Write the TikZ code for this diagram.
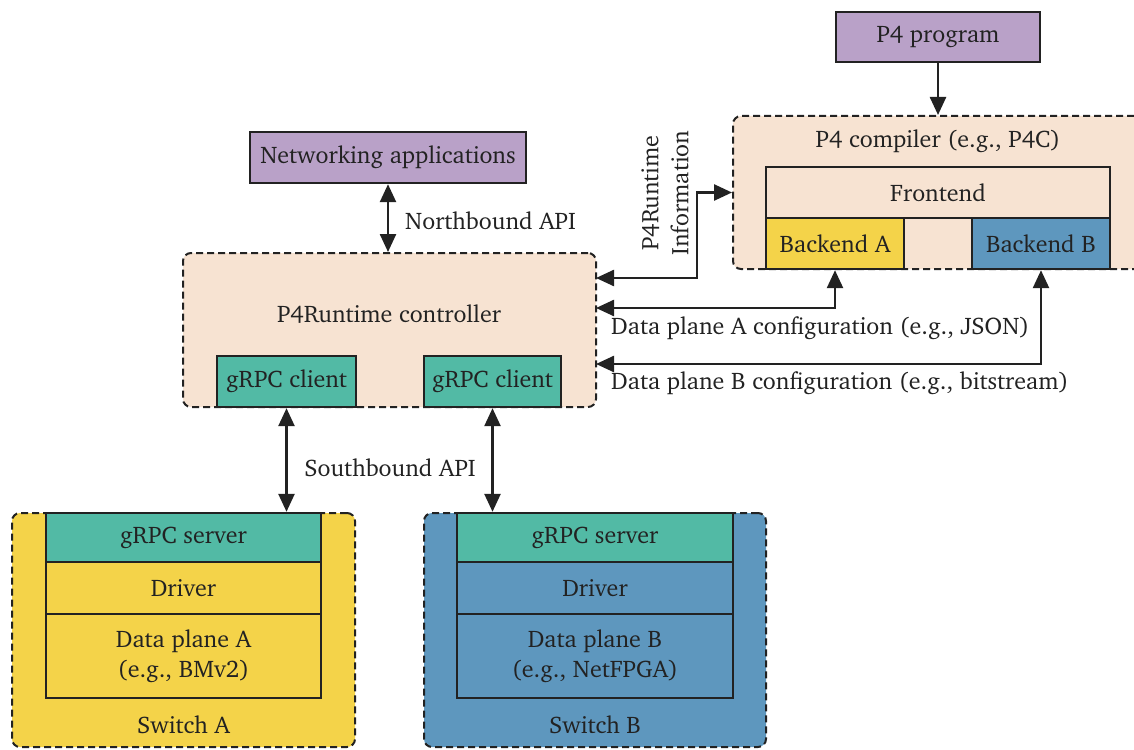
\documentclass[tikz,border=0pt]{standalone}
\usepackage[T1]{fontenc}
\usepackage{charter}
\usetikzlibrary{arrows.meta}
\definecolor{appPurple}{HTML}{B9A1C8}
\definecolor{peach}{HTML}{F7E3D2}
\definecolor{swYellow}{HTML}{F4D349}
\definecolor{swBlue}{HTML}{5E97BE}
\definecolor{rpcTeal}{HTML}{52BAA5}
\definecolor{ink}{HTML}{222222}
\begin{document}
\begin{tikzpicture}[x=1pt,y=-1pt,
  font=\fontsize{24}{30}\selectfont, text=ink,
  box/.style={draw=ink, line width=2.4pt, rectangle, inner sep=0pt, align=center},
  container/.style={draw=ink, line width=2pt, dash pattern=on 7pt off 4pt,
    rounded corners=8pt, rectangle, inner sep=0pt},
  link/.style={draw=ink, line width=2.5pt, {Triangle[length=18pt,width=16pt]}-{Triangle[length=18pt,width=16pt]}},
  feed/.style={draw=ink, line width=2.5pt, -{Triangle[length=18pt,width=16pt]}},
  lbl/.style={inner sep=0pt}]
\useasboundingbox (0,0) rectangle (1134,749);

% containers
\node[container, fill=peach, minimum width=420pt, minimum height=153pt] (comp) at (943,192.5) {};
\node[container, fill=peach, minimum width=413pt, minimum height=154pt] (ctrl) at (389.5,330) {};
\node[container, fill=swYellow, minimum width=343pt, minimum height=234pt] (swA) at (183.5,630) {};
\node[container, fill=swBlue, minimum width=342pt, minimum height=234pt] (swB) at (595,630) {};

% top-level boxes
\node[box, fill=appPurple, minimum width=204pt, minimum height=50pt] (prog) at (938,37) {P4 program};
\node[box, fill=appPurple, minimum width=276pt, minimum height=51pt] (apps) at (388,157.5) {Networking applications};

% compiler internals
\node[lbl] (compT) at (938,141) {P4 compiler (e.g., P4C)};
\node[box, fill=peach, minimum width=344pt, minimum height=51pt] (front) at (938,192.5) {Frontend};
\node[box, fill=swYellow, minimum width=138pt, minimum height=51pt] (backA) at (835,243.5) {Backend A};
\node[box, fill=swBlue, minimum width=138pt, minimum height=51pt] (backB) at (1041,243.5) {Backend B};

% controller internals
\node[lbl] (ctrlT) at (389,314) {P4Runtime controller};
\node[box, fill=rpcTeal, minimum width=139pt, minimum height=51pt] (cliA) at (286.5,381.5) {gRPC client};
\node[box, fill=rpcTeal, minimum width=137pt, minimum height=51pt] (cliB) at (492.5,381.5) {gRPC client};

% switch A stack
\node[box, fill=rpcTeal, minimum width=275pt, minimum height=49pt] (srvA) at (183.5,537.5) {gRPC server};
\node[box, fill=swYellow, minimum width=275pt, minimum height=52pt] (drvA) at (183.5,588) {Driver};
\node[box, fill=swYellow, minimum width=275pt, minimum height=84pt] (dpA) at (183.5,656) {Data plane A\\(e.g., BMv2)};
\node[lbl] (swAT) at (183.5,725) {Switch A};

% switch B stack
\node[box, fill=rpcTeal, minimum width=276pt, minimum height=49pt] (srvB) at (595,537.5) {gRPC server};
\node[box, fill=swBlue, minimum width=276pt, minimum height=52pt] (drvB) at (595,588) {Driver};
\node[box, fill=swBlue, minimum width=276pt, minimum height=84pt] (dpB) at (595,656) {Data plane B\\(e.g., NetFPGA)};
\node[lbl] (swBT) at (595,725) {Switch B};

% connectors
\draw[feed] (prog.south) -- (prog.south |- comp.north);
\draw[link] (apps.south) -- (apps.south |- ctrl.north);
\node[lbl, anchor=west] (nbT) at (405,221) {Northbound API};

\draw[link] (cliA.south) -- (cliA.south |- srvA.north);
\draw[link] (cliB.south) -- (cliB.south |- srvB.north);
\node[lbl] (sbT) at (390,468) {Southbound API};

\coordinate (infoC) at (596,278);
\coordinate (cfgA) at (596,308);
\coordinate (cfgB) at (596,364);
\draw[link] (infoC) -| (697,192.5) -- (comp.west |- front.west);
\draw[link] (cfgA) -| (backA.south);
\draw[link] (cfgB) -| (backB.south);

\node[lbl, rotate=90, align=center] (infoT) at (665,193) {P4Runtime\\Information};
\node[lbl, anchor=west] (cfgAT) at (611,328) {Data plane A configuration (e.g., JSON)};
\node[lbl, anchor=west] (cfgBT) at (611,383) {Data plane B configuration (e.g., bitstream)};
\end{tikzpicture}
\end{document}
